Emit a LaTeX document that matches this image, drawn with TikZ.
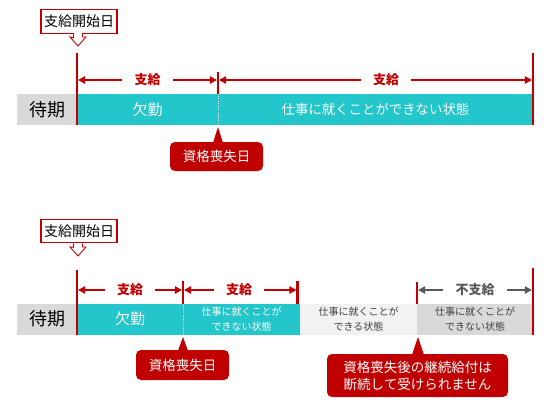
\documentclass[tikz,border=0pt]{standalone}
\usepackage{fontspec}
\setmainfont{Noto Sans CJK JP}
\usetikzlibrary{calc,positioning,arrows.meta}
\definecolor{JPRed}{HTML}{C00000}
\definecolor{JPTeal}{HTML}{23C6CA}
\definecolor{JPGray}{HTML}{D9D9D9}
\definecolor{JPLight}{HTML}{F2F2F2}
\definecolor{JPText}{HTML}{404040}
\definecolor{JPDim}{HTML}{595959}
\tikzset{
  waitbox/.style={fill=JPGray, inner sep=0pt, outer sep=0pt, minimum height=31pt, minimum width=60pt,
                  font=\fontsize{18pt}{20pt}\selectfont},
  bar/.style={fill=JPTeal, text=white, inner sep=0pt, outer sep=0pt, minimum height=31pt, align=center,
              font=\fontsize{10pt}{15pt}\selectfont},
  greybar/.style={bar, text=JPText},
  startbox/.style={draw=JPRed, line width=1.1pt, inner sep=0pt, minimum width=76pt, minimum height=23.5pt,
                   font=\fontsize{14pt}{16pt}\selectfont},
  balloon/.style={fill=JPRed, text=white, rounded corners=5pt, inner sep=0pt, align=center,
                  font=\fontsize{13.5pt}{17pt}\selectfont},
  tick/.style={JPRed, line width=2.2pt},
  dimlabel/.style={inner xsep=12pt, inner ysep=0pt, text=JPRed, font=\fontsize{13pt}{15pt}\selectfont\bfseries},
  dimline/.style={JPRed, line width=1.2pt, shorten >=1.1pt, -{Triangle[length=7pt,width=7.5pt]}},
}

\begin{document}
\begin{tikzpicture}[x=1pt, y=1pt, node distance=0pt]
  \useasboundingbox (0,0) rectangle (551,-409);

  % --- upper timeline
  \node[waitbox] (w1) at (47,-109.5) {待期};
  \node[bar, minimum width=141pt, font=\fontsize{15pt}{17pt}\selectfont, right=of w1] (k1) {欠勤};
  \node[bar, minimum width=315pt, font=\fontsize{13.4pt}{16pt}\selectfont, right=of k1] (n1) {仕事に就くことができない状態};
  \draw[white, line width=0.7pt, dash pattern=on 1pt off 1.2pt] (k1.north east) -- (k1.south east);

  \coordinate (s1) at (77,-53);
  \coordinate (e1) at (533,-53);
  \draw[tick] (k1.south west) -- (s1);
  \draw[tick] (k1.north east) -- ++(0,22);
  \draw[tick] (n1.south east) -- (e1);

  \node[dimlabel] (d1) at (147.5,-80) {支給};
  \node[dimlabel] (d2) at (386,-80) {支給};
  \draw[dimline] (d1.west) -- (d1 -| k1.west);
  \draw[dimline] (d1.east) -- (d1 -| k1.east);
  \draw[dimline] (d2.west) -- (d2 -| n1.west);
  \draw[dimline] (d2.east) -- (d2 -| n1.east);

  \node[startbox] (a1) at (79,-21.5) {支給開始日};
  \coordinate (q1) at (78,-46);
  \draw[white, line width=1.6pt] ([xshift=-3.6pt]q1 |- a1.south) -- ([xshift=3.6pt]q1 |- a1.south);
  \draw[JPRed, line width=0.9pt, line join=miter]
    ([xshift=-4.5pt]q1 |- a1.south) -- ++(0,-4) -- ([xshift=-8pt,yshift=9pt]q1) -- (q1)
    -- ([xshift=8pt,yshift=9pt]q1) -- ([xshift=4.5pt,yshift=9pt]q1) -- ([xshift=4.5pt]q1 |- a1.south);

  \node[balloon, minimum width=93pt, minimum height=29pt] (g1) at (216.5,-156.5) {資格喪失日};
  \coordinate (p1) at (218,-127);
  \fill[JPRed] (p1) -- ([xshift=-5pt,yshift=-1pt]p1 |- g1.north) -- ([xshift=5pt,yshift=-1pt]p1 |- g1.north) -- cycle;

  % --- lower timeline
  \node[waitbox] (w2) at (47,-319) {待期};
  \node[bar, minimum width=106pt, font=\fontsize{15pt}{17pt}\selectfont, right=of w2] (k2) {欠勤};
  \node[bar, minimum width=117pt, right=of k2] (n2) {仕事に就くことが\\できない状態};
  \node[greybar, fill=JPLight, minimum width=117pt, right=of n2] (c2) {仕事に就くことが\\できる状態};
  \node[greybar, fill=JPGray, minimum width=116pt, right=of c2] (n3) {仕事に就くことが\\できない状態};
  \draw[white, line width=0.7pt, dash pattern=on 1pt off 1.2pt] (k2.north east) -- (k2.south east);

  \coordinate (s2) at (77,-270);
  \coordinate (e2) at (533,-268);
  \coordinate (m2) at ([xshift=-2.5pt]n2.north east);
  \draw[tick] (k2.south west) -- (s2);
  \draw[tick] (k2.north east) -- ++(0,22.5);
  \draw[tick] (m2) -- ++(0,22.5);
  \draw[tick] (n3.north west) -- ++(0,22);
  \draw[tick] (n3.south east) -- (e2);

  \node[dimlabel] (d3) at (130,-290) {支給};
  \node[dimlabel] (d4) at (239,-290) {支給};
  \node[dimlabel, text=JPDim] (d5) at (475,-290) {不支給};
  \draw[dimline] (d3.west) -- (d3 -| k2.west);
  \draw[dimline] (d3.east) -- (d3 -| k2.east);
  \draw[dimline] (d4.west) -- (d4 -| k2.east);
  \draw[dimline] (d4.east) -- (d4 -| m2);
  \draw[dimline, JPDim] (d5.west) -- (d5 -| n3.west);
  \draw[dimline, JPDim] (d5.east) -- (d5 -| n3.east);

  \node[startbox] (a2) at (79,-231) {支給開始日};
  \coordinate (q2) at (78,-256);
  \draw[white, line width=1.6pt] ([xshift=-3.6pt]q2 |- a2.south) -- ([xshift=3.6pt]q2 |- a2.south);
  \draw[JPRed, line width=0.9pt, line join=miter]
    ([xshift=-4.5pt]q2 |- a2.south) -- ++(0,-4) -- ([xshift=-8pt,yshift=9pt]q2) -- (q2)
    -- ([xshift=8pt,yshift=9pt]q2) -- ([xshift=4.5pt,yshift=9pt]q2) -- ([xshift=4.5pt]q2 |- a2.south);

  \node[balloon, minimum width=93pt, minimum height=30pt] (g2) at (182.5,-365) {資格喪失日};
  \coordinate (p2) at (183,-337);
  \fill[JPRed] (p2) -- ([xshift=-5pt,yshift=-1pt]p2 |- g2.north) -- ([xshift=5pt,yshift=-1pt]p2 |- g2.north) -- cycle;

  \node[balloon, minimum width=181pt, minimum height=43pt] (g3) at (417.5,-375.5) {資格喪失後の継続給付は\\断続して受けられません};
  \coordinate (p3) at (418,-337);
  \fill[JPRed] (p3) -- ([xshift=-6pt,yshift=-1pt]p3 |- g3.north) -- ([xshift=6pt,yshift=-1pt]p3 |- g3.north) -- cycle;
\end{tikzpicture}
\end{document}
